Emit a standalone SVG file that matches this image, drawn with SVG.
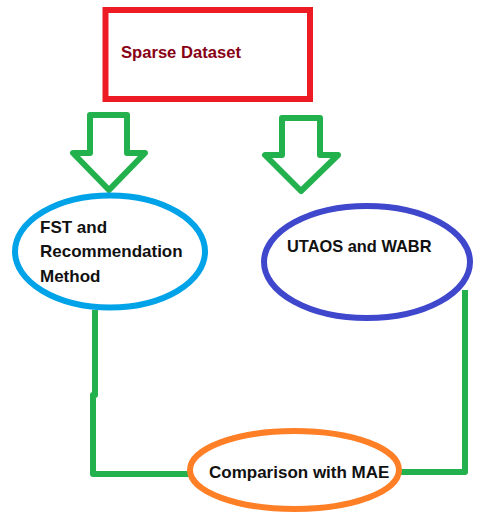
<svg xmlns="http://www.w3.org/2000/svg" width="477" height="514" viewBox="0 0 477 514">
<style>
.lbl{font-family:"Liberation Sans",Arial,sans-serif;font-weight:bold;font-size:17px;fill:#111;}
.conn{fill:none;stroke:#22B14C;stroke-width:6;stroke-linejoin:round;}
.arrow{fill:#fff;stroke:#22B14C;stroke-width:6;stroke-linejoin:round;}
</style>
<rect width="477" height="514" fill="#fff"/>
<g id="connectors">
<polygon class="arrow" points="90,115 127,115 127,153 145,153 109,190 73,153 90,153"/>
<polygon class="arrow" points="282,118 320,118 320,155 338,155 301,191 265,155 282,155"/>
<polyline class="conn" points="95,310 95,395 93,395 93,474 190,474"/>
<polyline class="conn" points="400,472 465,472 465,290"/>
</g>
<g id="sparse">
<rect x="105.5" y="10" width="204.5" height="89" fill="#fff" stroke="#ED1C24" stroke-width="6"/>
<text class="lbl" x="121" y="58" style="fill:#880015;font-size:16.6px">Sparse Dataset</text>
</g>
<g id="fst">
<ellipse cx="110" cy="251.5" rx="95" ry="56" fill="#fff" stroke="#00A2E8" stroke-width="6"/>
<text class="lbl" x="40" y="233">FST and</text>
<text class="lbl" x="40" y="257">Recommendation</text>
<text class="lbl" x="40" y="282">Method</text>
</g>
<g id="utaos">
<ellipse cx="367" cy="262" rx="103" ry="56" fill="#fff" stroke="#3F48CC" stroke-width="6"/>
<text class="lbl" x="287" y="252" style="font-size:16.4px">UTAOS and WABR</text>
</g>
<g id="compare">
<ellipse cx="294.5" cy="470" rx="104.5" ry="39" fill="#fff" stroke="#FF7F27" stroke-width="6"/>
<text class="lbl" x="209" y="478">Comparison with MAE</text>
</g>
</svg>
